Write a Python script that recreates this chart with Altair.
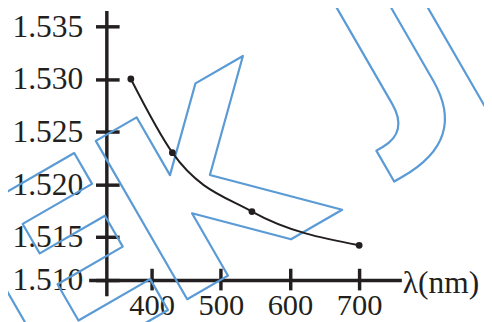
import altair as alt
import pandas as pd

# data
wavelength = [370, 430, 545, 700]
refr_index = [1.5300, 1.5230, 1.5174, 1.5142]
x_tick_values = [400, 500, 600, 700]
y_tick_values = [1.5109, 1.515, 1.520, 1.525, 1.530, 1.535]
x_title = "λ(nm)"

df = pd.DataFrame({"lam": wavelength, "n": refr_index})

INK = "#231f20"
FONT = "Liberation Serif"
FS = 32
W, H = 318, 290
x_scale = alt.Scale(domain=[309, 761], nice=False, zero=False)
y_scale = alt.Scale(domain=[1.5094, 1.5365], nice=False, zero=False)

label_expr = "datum.value < 1.512 ? '1.510' : format(datum.value, '.3f')"

base = alt.Chart(df)

line = base.mark_line(color=INK, strokeWidth=2, interpolate="monotone").encode(
    x=alt.X("lam:Q", scale=x_scale,
            axis=alt.Axis(orient="bottom", offset=-16, values=x_tick_values,
                          tickSize=10, labelPadding=1, grid=False,
                          labelFont=FONT, labelFontSize=31, labelColor=INK,
                          title=x_title, titleX=W + 1, titleY=3,
                          titleFont=FONT, titleFontSize=FS, titleColor=INK,
                          titleFontWeight="normal",
                          titleAlign="left", titleBaseline="middle",
                          titleAngle=0, titleAnchor="start")),
    y=alt.Y("n:Q", scale=y_scale,
            axis=alt.Axis(orient="left", offset=-18, values=y_tick_values,
                          labelExpr=label_expr, tickSize=11, labelPadding=13,
                          labelFont=FONT, labelFontSize=FS, labelColor=INK,
                          grid=False, title=None)),
)

points = base.mark_circle(color=INK, opacity=1, size=48).encode(
    x=alt.X("lam:Q", scale=x_scale,
            axis=alt.Axis(orient="top", offset=-(H - 16), values=x_tick_values,
                          tickSize=12, labels=False, domain=False, grid=False,
                          title=None)),
    y=alt.Y("n:Q", scale=y_scale,
            axis=alt.Axis(orient="right", offset=-(W - 18), values=y_tick_values,
                          tickSize=13, labels=False, domain=False, grid=False,
                          title=None)),
)

# light blue outlined watermark letters
wm_letters = ["E", "K", "J", "E"]
wm_x = [-17, 127, 300, 420]
wm_y = [272, 189, 32, 0]
wm_layers = []
for ch, px, py in zip(wm_letters, wm_x, wm_y):
    wm_layers.append(
        alt.Chart(pd.DataFrame({"t": [ch]})).mark_text(
            font="DejaVu Sans", fontWeight="bold", fontSize=255, angle=330,
            align="center", baseline="middle", fillOpacity=0,
            stroke="#5b9bd5", strokeWidth=2.2, strokeJoin="round",
        ).encode(text="t:N", x=alt.value(px), y=alt.value(py))
    )

chart = alt.layer(*wm_layers, line, points).resolve_axis(
    x="independent", y="independent"
).properties(
    width=W, height=H, autosize=alt.AutoSizeParams(type="none"),
    padding={"left": 82, "top": 0, "right": 84, "bottom": 24},
).configure_axis(
    domainColor=INK, domainWidth=3.5, tickColor=INK, tickWidth=3.5,
).configure_view(strokeWidth=0)

chart.save("out.html", embed_options={"renderer": "svg", "actions": False})
